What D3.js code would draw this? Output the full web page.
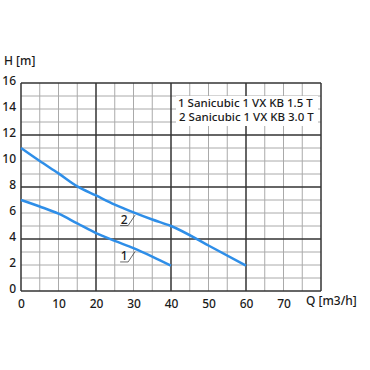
<!DOCTYPE html>
<html><head><meta charset="utf-8">
<script src="https://cdn.jsdelivr.net/npm/d3@7"></script>
<style>body{margin:0;background:#fff}svg{display:block}</style>
</head><body>
<script>
const xTicks = [0,10,20,30,40,50,60,70];
const yTicks = [0,2,4,6,8,10,12,14,16];
const curve1Q = [0,5,10,15,20,25,30,35,40];
const curve1H = [7.0,6.5,5.95,5.2,4.45,3.85,3.3,2.65,1.95];
const curve2Q = [0,5,10,15,20,25,30,35,40,50,60];
const curve2H = [11.0,10.0,9.05,8.05,7.35,6.65,6.05,5.5,5.0,3.5,1.95];
const legendLines = ["1 Sanicubic 1 VX KB 1.5 T","2 Sanicubic 1 VX KB 3.0 T"];
const curveLabels = ["1","2"];

const W=370,H=370;
const svg=d3.select("body").append("svg").attr("width",W).attr("height",H);
const x=d3.scaleLinear().domain([0,80]).range([21,321]);
const y=d3.scaleLinear().domain([0,16]).range([291,83]);
const font="'Noto Sans', sans-serif";

const g=svg.append("g");
d3.range(0,81,5).forEach(v=>{ if(v%20) g.append("line").attr("x1",x(v)).attr("x2",x(v)).attr("y1",y(0)).attr("y2",y(16)).attr("stroke","#aaa").attr("stroke-width",1);});
d3.range(0,17,1).forEach(v=>{ if(v%4) g.append("line").attr("y1",y(v)).attr("y2",y(v)).attr("x1",x(0)).attr("x2",x(80)).attr("stroke","#aaa").attr("stroke-width",1);});
d3.range(0,81,20).forEach(v=>g.append("line").attr("x1",x(v)).attr("x2",x(v)).attr("y1",y(0)).attr("y2",y(16)).attr("stroke","#333").attr("stroke-width",1.5));
d3.range(0,17,4).forEach(v=>g.append("line").attr("y1",y(v)).attr("y2",y(v)).attr("x1",x(0)).attr("x2",x(80)).attr("stroke","#333").attr("stroke-width",1.5));

const xa=svg.append("g").attr("transform",`translate(0,${y(0)})`).call(d3.axisBottom(x).tickValues(xTicks).tickSize(0).tickPadding(8));
const ya=svg.append("g").attr("transform",`translate(${x(0)-4},-2)`).call(d3.axisLeft(y).tickValues(yTicks).tickSize(0).tickPadding(1));
[xa,ya].forEach(a=>{a.select(".domain").remove();a.selectAll("text").attr("font-family",font).attr("font-size",12).attr("font-weight",500).attr("fill","#1a1a1a");});

svg.append("text").attr("x",4).attr("y",65).text("H [m]").attr("font-family",font).attr("font-size",12).attr("font-weight",500).attr("fill","#1a1a1a");
svg.append("text").attr("x",306).attr("y",305).text("Q [m3/h]").attr("font-family",font).attr("font-size",12).attr("font-weight",500).attr("fill","#1a1a1a");

svg.append("rect").attr("x",176).attr("y",96).attr("width",142).attr("height",30).attr("fill","#fff");
legendLines.forEach((t,i)=>svg.append("text").attr("x",178+i).attr("y",107+i*14).text(t).attr("font-family",font).attr("font-size",11.5).attr("font-weight",500).attr("fill","#1a1a1a"));

const line=d3.line().x(d=>x(d[0])).y(d=>y(d[1])).curve(d3.curveMonotoneX);
[[curve1Q,curve1H],[curve2Q,curve2H]].forEach(([q,h])=>{
  svg.append("path").datum(q.map((v,i)=>[v,h[i]])).attr("d",line).attr("fill","none").attr("stroke","#2e8ee8").attr("stroke-width",2.5).attr("stroke-linejoin","round");
});

const labelPos=[[x(27.5),y(2.35)],[x(27.5),y(5.15)]];
curveLabels.forEach((t,i)=>{
  const [lx,ly]=labelPos[i];
  svg.append("text").attr("x",lx).attr("y",ly).text(t).attr("text-anchor","middle").attr("font-family",font).attr("font-size",12).attr("font-weight",500).attr("fill","#1a1a1a");
  svg.append("path").attr("d",`M${lx-4},${ly+1.5}H${lx+4}L${lx+11},${ly-9}`).attr("fill","none").attr("stroke","#444").attr("stroke-width",0.8);
});
</script>
</body></html>
